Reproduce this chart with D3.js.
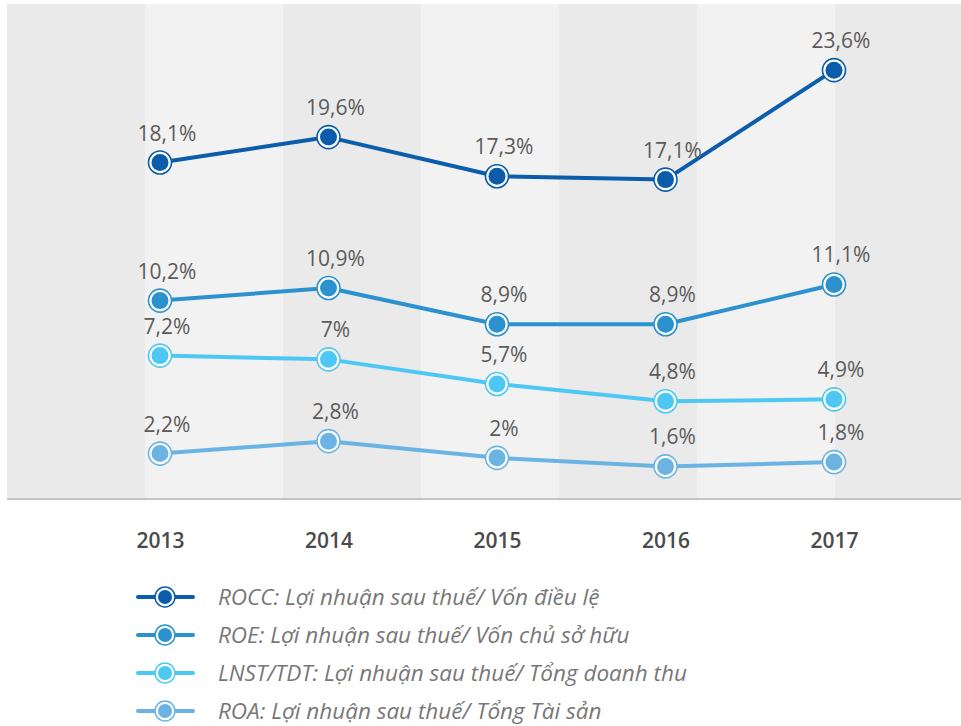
<!DOCTYPE html>
<html>
<head>
<meta charset="utf-8">
<script src="https://cdn.jsdelivr.net/npm/d3@7/dist/d3.min.js"></script>
<style>
html,body{margin:0;padding:0;background:#fff;}
svg{display:block;}
</style>
</head>
<body>
<svg id="chart" width="961" height="726"></svg>
<script>
const years = ["2013", "2014", "2015", "2016", "2017"];
const seriesNames = ["ROCC", "ROE", "LNST/TDT", "ROA"];
const legendLabels = [
  "ROCC: Lợi nhuận sau thuế/ Vốn điều lệ",
  "ROE: Lợi nhuận sau thuế/ Vốn chủ sở hữu",
  "LNST/TDT: Lợi nhuận sau thuế/ Tổng doanh thu",
  "ROA: Lợi nhuận sau thuế/ Tổng Tài sản"
];
const rocc = [18.1, 19.6, 17.3, 17.1, 23.6];
const roe = [10.2, 10.9, 8.9, 8.9, 11.1];
const lnst = [7.2, 7.0, 5.7, 4.8, 4.9];
const roa = [2.2, 2.8, 2.0, 1.6, 1.8];
const valueLabels = [
  ["18,1%", "19,6%", "17,3%", "17,1%", "23,6%"],
  ["10,2%", "10,9%", "8,9%", "8,9%", "11,1%"],
  ["7,2%", "7%", "5,7%", "4,8%", "4,9%"],
  ["2,2%", "2,8%", "2%", "1,6%", "1,8%"]
];
const colors = ["#0b5cab", "#2b92cf", "#4dc8f4", "#6bb3e3"];
const bandCount = 7;

const allSeries = [rocc, roe, lnst, roa];
const svg = d3.select("#chart");

// background bands
const bandX = d3.scaleBand().domain(d3.range(bandCount)).range([7, 973]).padding(0);
const plotTop = 4, plotBottom = 498;
svg.append("g").selectAll("rect").data(d3.range(bandCount)).join("rect")
  .attr("x", d => bandX(d))
  .attr("y", plotTop)
  .attr("width", bandX.bandwidth() + 0.5)
  .attr("height", plotBottom - plotTop)
  .attr("fill", d => d % 2 === 0 ? "#eaeaea" : "#f2f2f2");

// baseline
svg.append("line")
  .attr("x1", 7).attr("x2", 961)
  .attr("y1", 499).attr("y2", 499)
  .attr("stroke", "#c4c4c4").attr("stroke-width", 2);

const x = d3.scalePoint().domain(years).range([160, 834]);
const y = d3.scalePow().exponent(0.9).domain([0, 27.5]).range([505, 6]);

// x axis labels
const xAxis = d3.axisBottom(x).tickSize(0).tickPadding(0);
const gx = svg.append("g").attr("transform", "translate(0,532)").call(xAxis);
gx.select(".domain").remove();
gx.selectAll("text")
  .attr("dy", 0)
  .attr("y", 16)
  .attr("font-family", "'Open Sans', sans-serif")
  .attr("font-size", 21)
  .attr("font-weight", 600)
  .attr("fill", "#4a4a4a");

const line = d3.line().x((d, i) => x(years[i])).y(d => y(d));

allSeries.forEach((vals, s) => {
  const g = svg.append("g");
  g.append("path").datum(vals)
    .attr("d", line)
    .attr("fill", "none")
    .attr("stroke", colors[s])
    .attr("stroke-width", 4)
    .attr("stroke-linejoin", "round");
  const pts = g.selectAll("g.pt").data(vals).join("g").attr("class", "pt")
    .attr("transform", (d, i) => `translate(${x(years[i])},${y(d)})`);
  pts.append("circle").attr("r", 11.5).attr("fill", "#fff")
    .attr("stroke", colors[s]).attr("stroke-width", 1.6);
  pts.append("circle").attr("r", 8.5).attr("fill", colors[s]);
  g.selectAll("text.val").data(vals).join("text").attr("class", "val")
    .attr("x", (d, i) => x(years[i]) + 7)
    .attr("y", d => y(d) - 22)
    .attr("text-anchor", "middle")
    .attr("font-family", "'Open Sans', sans-serif")
    .attr("font-size", 21)
    .attr("fill", "#5b5b5b")
    .text((d, i) => valueLabels[s][i]);
});

// legend
const ly = d3.scalePoint().domain(seriesNames).range([597, 711]);
const lg = svg.append("g").selectAll("g").data(seriesNames).join("g")
  .attr("transform", d => `translate(0,${ly(d)})`);
lg.append("line").attr("x1", 138).attr("x2", 193).attr("y1", 0).attr("y2", 0)
  .attr("stroke", (d, i) => colors[i]).attr("stroke-width", 4).attr("stroke-linecap", "round");
lg.append("circle").attr("cx", 165).attr("cy", 0).attr("r", 10)
  .attr("fill", "#fff").attr("stroke", (d, i) => colors[i]).attr("stroke-width", 1.5);
lg.append("circle").attr("cx", 165).attr("cy", 0).attr("r", 7)
  .attr("fill", (d, i) => colors[i]);
lg.append("text").attr("x", 218).attr("y", 8)
  .attr("font-family", "'Open Sans', sans-serif")
  .attr("font-size", 22.5)
  .attr("font-style", "italic")
  .attr("fill", "#777")
  .text((d, i) => legendLabels[i]);
</script>
</body>
</html>
